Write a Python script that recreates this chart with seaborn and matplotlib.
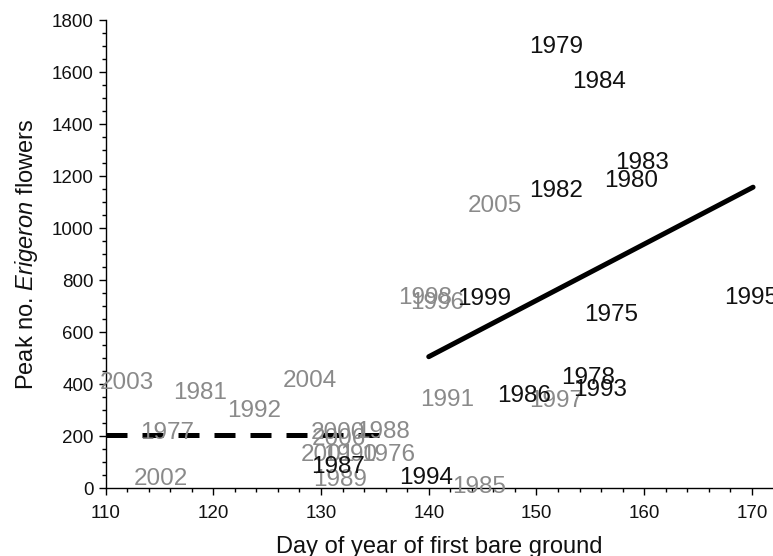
import matplotlib
matplotlib.use("Agg")
import matplotlib.pyplot as plt
from matplotlib.ticker import MultipleLocator
import pandas as pd
import seaborn as sns

# Year labels: day of first bare ground vs peak number of Erigeron flowers
black_years = ["1979", "1984", "1983", "1980", "1982", "1995", "1999", "1975",
               "1978", "1993", "1986", "1987", "1994"]
black_day = [151.8, 155.8, 159.8, 158.8, 151.8, 169.9, 145.1, 156.9,
             154.8, 155.9, 148.8, 131.6, 139.8]
black_flowers = [1695, 1563, 1249, 1182, 1143, 730, 726, 665,
                 422, 377, 354, 82, 37]

gray_years = ["2005", "1998", "1996", "1991", "1997", "2003", "2004", "1981",
              "1992", "1977", "2000", "1988", "2006", "2001", "1990", "1976",
              "2002", "1989", "1985"]
gray_day = [146.1, 139.7, 140.8, 141.7, 151.8, 112.0, 129.0, 118.8,
            123.8, 115.7, 131.6, 135.8, 131.7, 130.6, 132.7, 136.2,
            115.1, 131.8, 144.7]
gray_flowers = [1086, 730, 710, 338, 336, 403, 413, 364,
                297, 210, 213, 215, 188, 127, 127, 127,
                33, 31, 3]

# Fitted lines for early and late snowmelt years
late_fit_day = [140.0, 170.1]
late_fit_flowers = [505, 1157]
early_fit_day = [110.0, 136.2]
early_fit_flowers = [205, 205]

sns.set_style("ticks")
plt.rcParams["font.family"] = ["Liberation Sans", "DejaVu Sans"]
plt.rcParams["mathtext.fontset"] = "custom"
plt.rcParams["mathtext.rm"] = "Liberation Sans"
plt.rcParams["mathtext.it"] = "Liberation Sans:italic"

fig = plt.figure(figsize=(7.73, 5.56), dpi=100)
ax = fig.add_axes([0.1365, 0.1223, 0.8635, 0.8417])

late_df = pd.DataFrame({"day": late_fit_day, "flowers": late_fit_flowers})
early_df = pd.DataFrame({"day": early_fit_day, "flowers": early_fit_flowers})
sns.lineplot(data=late_df, x="day", y="flowers", ax=ax, color="black",
             linewidth=3.6, solid_capstyle="round")
sns.lineplot(data=early_df, x="day", y="flowers", ax=ax, color="black",
             linewidth=3.6, dashes=False)
ax.lines[-1].set_dashes([4.2, 3.0])
ax.lines[-1].set_dash_capstyle("butt")

for yr, d, f in zip(gray_years, gray_day, gray_flowers):
    ax.text(d, f, yr, ha="center", va="center", fontsize=17.5,
            color="#8a8a8a", clip_on=False)
for yr, d, f in zip(black_years, black_day, black_flowers):
    ax.text(d, f, yr, ha="center", va="center", fontsize=17.5,
            color="#111111", clip_on=False)

ax.set_xlim(110, 171.95)
ax.set_ylim(0, 1800)
ax.xaxis.set_major_locator(MultipleLocator(10))
ax.xaxis.set_minor_locator(MultipleLocator(2))
ax.yaxis.set_major_locator(MultipleLocator(200))
ax.yaxis.set_minor_locator(MultipleLocator(50))
ax.tick_params(axis="both", which="major", length=5, width=1.0,
               labelsize=13.5, color="black", labelcolor="#111111")
ax.tick_params(axis="both", which="minor", length=3, width=1.0, color="black")
ax.tick_params(axis="x", which="major", pad=7.5)
ax.tick_params(axis="y", which="major", pad=3.5)

for side in ("top", "right"):
    ax.spines[side].set_visible(False)
for side in ("left", "bottom"):
    ax.spines[side].set_linewidth(1.0)
    ax.spines[side].set_color("black")

ax.set_xlabel("Day of year of first bare ground", fontsize=17, color="#111111")
ax.set_ylabel(r"Peak no. $\mathit{Erigeron}$ flowers", fontsize=17,
              color="#111111")
ax.xaxis.set_label_coords(0.5, -0.102)
ax.yaxis.set_label_coords(-0.098, 0.5)

fig.savefig("out.png", dpi=100)
